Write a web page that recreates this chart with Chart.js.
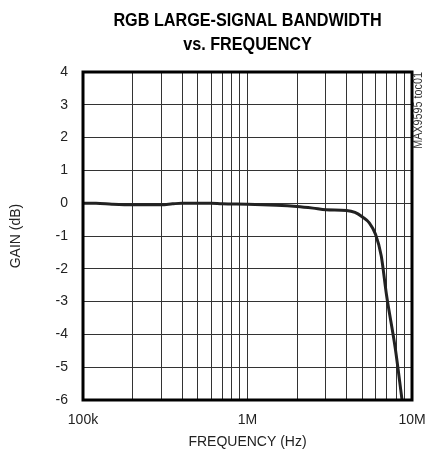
<!DOCTYPE html>
<html><head><meta charset="utf-8">
<script src="https://cdn.jsdelivr.net/npm/chart.js@4/dist/chart.umd.min.js"></script>
<style>html,body{margin:0;padding:0;background:#fff}#wrap{width:425px;height:459px}</style>
</head><body><div id="wrap"><canvas id="c"></canvas></div>
<script>
const titleLines = ['RGB LARGE-SIGNAL BANDWIDTH', 'vs. FREQUENCY'];
const xAxisTitle = 'FREQUENCY (Hz)';
const yAxisTitle = 'GAIN (dB)';
const sideNote = 'MAX9595 toc01';
const freqHz = [1e5, 1.2e5, 1.5e5, 2e5, 3e5, 3.5e5, 4e5, 6e5, 7e5, 1e6, 1.5e6, 2e6, 2.5e6, 3e6, 4e6, 4.5e6, 5e6, 5.5e6, 6e6, 6.5e6, 7e6, 7.9e6, 8.7e6];
const gainDb = [0, 0, -0.03, -0.05, -0.05, -0.02, 0, 0, -0.02, -0.03, -0.06, -0.1, -0.15, -0.2, -0.22, -0.28, -0.42, -0.6, -0.95, -1.6, -2.8, -4.4, -6];
const xTickValues = [1e5, 1e6, 1e7];
const xTickLabels = ['100k', '1M', '10M'];
const yTickValues = [4, 3, 2, 1, 0, -1, -2, -3, -4, -5, -6];

const xGrid = [];
for (let d = 1e5; d < 1e7; d *= 10) for (let m = 1; m < 10; m++) xGrid.push(d * m);
xGrid.push(1e7);

const deco = {
  id: 'deco',
  afterDraw(chart) {
    const {ctx, chartArea: a} = chart;
    ctx.save();
    ctx.strokeStyle = '#000'; ctx.lineWidth = 3;
    ctx.strokeRect(a.left, a.top, a.right - a.left, a.bottom - a.top);
    ctx.fillStyle = '#000';
    ctx.textAlign = 'center'; ctx.textBaseline = 'middle';
    const cx = (a.left + a.right) / 2;
    ctx.save();
    ctx.translate(cx, 0);
    ctx.scale(0.9, 1);
    ctx.font = 'bold 18px "Liberation Sans", sans-serif';
    ctx.fillText(titleLines[0], 0, 21);
    ctx.fillText(titleLines[1], 0, 45);
    ctx.restore();
    ctx.fillStyle = '#222';
    ctx.font = '14px "Liberation Sans", sans-serif';
    ctx.fillText(xAxisTitle, cx, 442);
    ctx.save();
    ctx.translate(16, (a.top + a.bottom) / 2);
    ctx.rotate(-Math.PI / 2);
    ctx.fillText(yAxisTitle, 0, 0);
    ctx.restore();
    ctx.save();
    ctx.translate(419, a.top);
    ctx.rotate(-Math.PI / 2);
    ctx.textAlign = 'right';
    ctx.scale(0.9, 1);
    ctx.fillStyle = '#333';
    ctx.font = '12px "Liberation Sans", sans-serif';
    ctx.fillText(sideNote, 0, 0);
    ctx.restore();
    ctx.restore();
  }
};

new Chart(document.getElementById('c'), {
  type: 'line',
  data: {
    datasets: [{
      data: freqHz.map((f, i) => ({x: f, y: gainDb[i]})),
      borderColor: '#222', borderWidth: 3, pointRadius: 0,
      cubicInterpolationMode: 'monotone', fill: false
    }]
  },
  options: {
    responsive: true, maintainAspectRatio: false, animation: false,
    layout: {padding: {top: 72, right: 13, left: 0, bottom: 0}},
    plugins: {legend: {display: false}, title: {display: false}, tooltip: {enabled: false}},
    scales: {
      x: {
        type: 'logarithmic', min: 1e5, max: 1e7,
        afterBuildTicks: s => { s.ticks = xGrid.map(v => ({value: v})); },
        afterFit: s => { s.height = 59; s.paddingRight = 0; s.paddingLeft = 0; },
        grid: {color: '#333', lineWidth: 1, drawTicks: false},
        border: {display: false},
        ticks: {
          autoSkip: false, maxRotation: 0, padding: 12, color: '#222',
          font: {family: '"Liberation Sans", sans-serif', size: 14},
          callback: v => { const i = xTickValues.indexOf(v); return i >= 0 ? xTickLabels[i] : ''; }
        }
      },
      y: {
        min: -6, max: 4,
        afterBuildTicks: s => { s.ticks = yTickValues.map(v => ({value: v})); },
        afterFit: s => { s.width = 83; },
        grid: {color: '#333', lineWidth: 1, drawTicks: false},
        border: {display: false},
        ticks: {padding: 15, color: '#222', font: {family: '"Liberation Sans", sans-serif', size: 14}}
      }
    }
  },
  plugins: [deco]
});
</script></body></html>
